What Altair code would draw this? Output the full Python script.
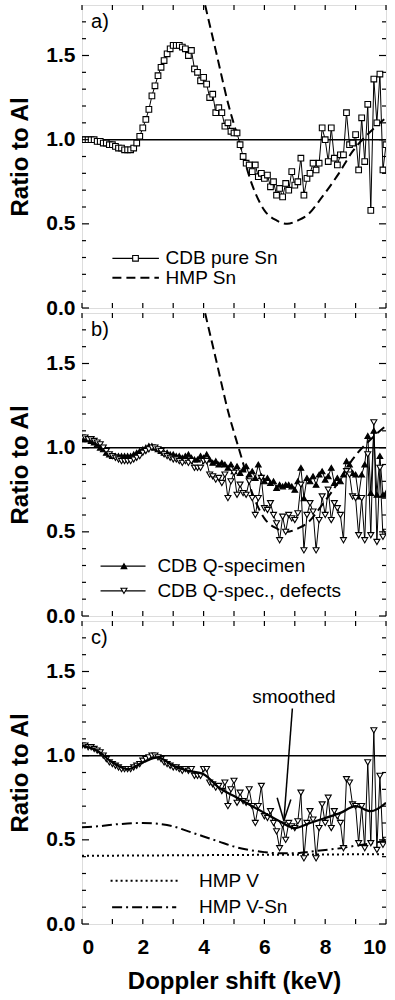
import altair as alt
import pandas as pd

FONT = "Liberation Sans"
W, H = 304, 303

# ---------------- data ----------------
x_grid = [0.0, 0.1, 0.2, 0.3, 0.4, 0.5, 0.6, 0.7, 0.8, 0.9,
          1.0, 1.1, 1.2, 1.3, 1.4, 1.5, 1.6, 1.7, 1.8, 1.9,
          2.0, 2.1, 2.2, 2.3, 2.4, 2.5, 2.6, 2.7, 2.8, 2.9,
          3.0, 3.1, 3.2, 3.3, 3.4, 3.5, 3.6, 3.7, 3.8, 3.9,
          4.0, 4.1, 4.2, 4.3, 4.4, 4.5, 4.6, 4.7, 4.8, 4.9,
          5.0, 5.1, 5.2, 5.3, 5.4, 5.5, 5.6, 5.7, 5.8, 5.9,
          6.0, 6.1, 6.2, 6.3, 6.4, 6.5, 6.6, 6.7, 6.8, 6.9,
          7.0, 7.1, 7.2, 7.3, 7.4, 7.5, 7.6, 7.7, 7.8, 7.9,
          8.0, 8.1, 8.2, 8.3, 8.4, 8.5, 8.6, 8.7, 8.8, 8.9,
          9.0, 9.1, 9.2, 9.3, 9.4, 9.5, 9.6, 9.7, 9.8, 9.9,
          10.0]

cdb_pure_sn = [1.00, 1.00, 1.00, 1.00, 1.00, 0.99, 0.99, 0.98, 0.98, 0.97,
               0.97, 0.96, 0.95, 0.95, 0.94, 0.94, 0.94, 0.95, 0.98, 1.02,
               1.07, 1.12, 1.18, 1.26, 1.32, 1.38, 1.43, 1.47, 1.51, 1.54,
               1.56, 1.56, 1.56, 1.55, 1.54, 1.50, 1.53, 1.42, 1.40, 1.35,
               1.37, 1.33, 1.25, 1.27, 1.16, 1.19, 1.16, 1.08, 1.10, 1.05,
               1.04, 1.04, 0.97, 0.90, 0.86, 0.85, 0.81, 0.85, 0.78, 0.80,
               0.77, 0.79, 0.72, 0.75, 0.67, 0.71, 0.66, 0.74, 0.70, 0.81,
               0.73, 0.75, 0.89, 0.67, 0.77, 0.80, 0.86, 0.82, 0.86, 1.07,
               1.00, 0.87, 1.07, 0.89, 0.85, 0.91, 0.91, 1.16, 0.97, 0.98,
               1.03, 0.82, 1.13, 0.87, 1.21, 0.58, 1.36, 1.10, 1.39, 0.82,
               0.97]

cdb_q_spec = [1.05, 1.05, 1.05, 1.04, 1.03, 1.02, 1.00, 0.99, 0.97, 0.96,
              0.95, 0.95, 0.95, 0.95, 0.95, 0.95, 0.95, 0.96, 0.97, 0.98,
              0.99, 1.00, 1.01, 1.01, 1.00, 0.99, 0.98, 0.97, 0.97, 0.96,
              0.96, 0.95, 0.95, 0.94, 0.95, 0.96, 0.94, 0.93, 0.93, 0.95,
              0.94, 0.96, 0.93, 0.91, 0.92, 0.90, 0.91, 0.90, 0.88, 0.90,
              0.86, 0.89, 0.85, 0.87, 0.89, 0.84, 0.86, 0.82, 0.90, 0.83,
              0.80, 0.82, 0.79, 0.80, 0.76, 0.78, 0.77, 0.78, 0.78, 0.77,
              0.75, 0.80, 0.88, 0.70, 0.82, 0.80, 0.83, 0.78, 0.84, 0.86,
              0.81, 0.83, 0.88, 0.79, 0.82, 0.80, 0.84, 0.92, 0.90, 0.85,
              0.84, 0.71, 0.84, 0.90, 1.07, 0.73, 1.10, 0.72, 0.95, 0.72,
              0.73]

cdb_defects = [1.06, 1.06, 1.05, 1.05, 1.04, 1.03, 1.02, 1.00, 0.98, 0.96,
               0.95, 0.94, 0.93, 0.92, 0.92, 0.92, 0.92, 0.93, 0.94, 0.95,
               0.97, 0.98, 0.99, 1.00, 1.00, 0.99, 0.98, 0.96, 0.95, 0.94,
               0.93, 0.93, 0.92, 0.91, 0.92, 0.91, 0.92, 0.88, 0.88, 0.88,
               0.92, 0.92, 0.84, 0.83, 0.81, 0.82, 0.79, 0.84, 0.70, 0.80,
               0.85, 0.72, 0.78, 0.73, 0.72, 0.80, 0.70, 0.60, 0.70, 0.82,
               0.64, 0.63, 0.67, 0.60, 0.55, 0.45, 0.59, 0.50, 0.60, 0.58,
               0.57, 0.61, 0.78, 0.39, 0.60, 0.67, 0.62, 0.39, 0.57, 0.71,
               0.60, 0.75, 0.57, 0.67, 0.64, 0.60, 0.45, 0.86, 0.84, 0.71,
               0.70, 0.48, 0.70, 0.45, 0.96, 0.48, 1.15, 0.44, 0.88, 0.47,
               0.50]

smooth_x = [0.0, 0.5, 1.0, 1.5, 2.0, 2.5, 3.0, 3.5, 4.0, 4.5, 5.0,
            5.5, 6.0, 6.5, 7.0, 7.5, 8.0, 8.5, 9.0, 9.5, 10.0]
smooth_y = [1.06, 1.03, 0.96, 0.92, 0.96, 0.99, 0.94, 0.91, 0.89, 0.81, 0.76,
            0.71, 0.66, 0.61, 0.57, 0.60, 0.63, 0.66, 0.70, 0.67, 0.72]

hmp_sn_x = [3.95, 4.05, 4.4, 4.8, 5.2, 5.6, 6.0, 6.4, 6.75, 7.1, 7.4, 7.9,
            8.45, 8.9, 9.5, 10.0]
hmp_sn_y = [1.88, 1.80, 1.53, 1.22, 0.97, 0.73, 0.58, 0.52, 0.50, 0.52, 0.55,
            0.66, 0.80, 0.93, 1.05, 1.13]

hmp_v_x = [0.0, 5.0, 10.0]
hmp_v_y = [0.405, 0.41, 0.415]

hmp_vsn_x = [0.0, 0.5, 1.0, 1.5, 2.0, 2.5, 3.0, 3.5, 4.0, 4.5, 5.0,
             5.5, 6.0, 6.5, 7.0, 7.5, 8.0, 8.5, 9.0, 9.5, 10.0]
hmp_vsn_y = [0.575, 0.58, 0.59, 0.597, 0.60, 0.595, 0.58, 0.55, 0.52, 0.49, 0.46,
             0.44, 0.427, 0.42, 0.42, 0.43, 0.44, 0.45, 0.465, 0.478, 0.496]

x_tick_vals = [0, 1, 2, 3, 4, 5, 6, 7, 8, 9, 10]
x_label_vals = [0, 2, 4, 6, 8, 10]
y_label_vals = [0.0, 0.5, 1.0, 1.5]
y_minor_vals = [0.1, 0.2, 0.3, 0.4, 0.6, 0.7, 0.8, 0.9, 1.1, 1.2, 1.3, 1.4,
                1.6, 1.7]

panel_labels = ["a)", "b)", "c)"]

legend_a = ["CDB pure Sn", "HMP Sn"]
legend_b = ["CDB Q-specimen", "CDB Q-spec., defects"]
legend_c = ["HMP V", "HMP V-Sn"]

# ---------------- helpers ----------------
XS = alt.Scale(domain=[0, 10], nice=False, zero=False)
YS = alt.Scale(domain=[0, 1.8], nice=False, zero=False)

Y_AXIS = alt.Axis(values=y_label_vals, format=".1f", title="Ratio to Al",
                  ticks=False, domain=False, grid=False,
                  labelFont=FONT, labelFontWeight="bold", labelFontSize=21,
                  labelColor="black", labelPadding=7,
                  titleFont=FONT, titleFontWeight="bold", titleFontSize=24,
                  titleColor="black", titlePadding=13)

X_AXIS_C = alt.Axis(values=x_label_vals, format="d", title="Doppler shift (keV)",
                    ticks=False, domain=False, grid=False,
                    labelFont=FONT, labelFontWeight="bold", labelFontSize=21,
                    labelColor="black", labelPadding=12,
                    titleFont=FONT, titleFontWeight="bold", titleFontSize=24,
                    titleColor="black", titlePadding=12)


def xe(show):
    return alt.X("x:Q", scale=XS, axis=X_AXIS_C if show else None)


def ye():
    return alt.Y("y:Q", scale=YS, axis=Y_AXIS)


def df(xs, ys):
    return pd.DataFrame({"x": xs, "y": ys})


def frame_ticks(show):
    layers = []
    ymaj = pd.DataFrame({"y": y_label_vals})
    ymin = pd.DataFrame({"y": y_minor_vals})
    xt = pd.DataFrame({"x": x_tick_vals})
    for d, ln in ((ymaj, 7), (ymin, 4)):
        layers.append(alt.Chart(d).mark_rule(color="black", strokeWidth=1.2).encode(
            y=ye(), x=alt.value(0), x2=alt.value(ln)))
        layers.append(alt.Chart(d).mark_rule(color="black", strokeWidth=1.2).encode(
            y=ye(), x=alt.value(W - ln), x2=alt.value(W)))
    layers.append(alt.Chart(xt).mark_rule(color="black", strokeWidth=1.2).encode(
        x=xe(show), y=alt.value(0), y2=alt.value(5)))
    layers.append(alt.Chart(xt).mark_rule(color="black", strokeWidth=1.2).encode(
        x=xe(show), y=alt.value(H - 5), y2=alt.value(H)))
    return layers


def unity(show):
    return alt.Chart(pd.DataFrame({"x": [0.0], "x2": [10.0], "y": [1.0]})).mark_rule(
        color="black", strokeWidth=1.5).encode(x=xe(show), x2="x2:Q", y=ye())


def label(txt, show):
    return alt.Chart(pd.DataFrame({"x": [0.3], "y": [1.70], "t": [txt]})).mark_text(
        font=FONT, fontSize=20, align="left", baseline="middle", color="black").encode(
        x=xe(show), y=ye(), text="t:N")


def seg(x1, x2, yv, show, dash=None, width=1.2):
    kw = dict(color="black", strokeWidth=width)
    if dash is not None:
        kw["strokeDash"] = dash
    return alt.Chart(pd.DataFrame({"x": [x1], "x2": [x2], "y": [yv]})).mark_rule(**kw).encode(
        x=xe(show), x2="x2:Q", y=ye())


def txt(xv, yv, s, show, size=19, align="left"):
    return alt.Chart(pd.DataFrame({"x": [xv], "y": [yv], "t": [s]})).mark_text(
        font=FONT, fontSize=size, align=align, baseline="middle", color="black").encode(
        x=xe(show), y=ye(), text="t:N")


def line(xs, ys, show, dash=None, width=1.0, interp=None, clip=True):
    kw = dict(color="black", strokeWidth=width, clip=clip)
    if dash is not None:
        kw["strokeDash"] = dash
    if interp is not None:
        kw["interpolate"] = interp
    return alt.Chart(df(xs, ys)).mark_line(**kw).encode(x=xe(show), y=ye())


def pts(xs, ys, show, shape, filled_black=False, size=30):
    if filled_black:
        m = alt.Chart(df(xs, ys)).mark_point(shape=shape, filled=True, fill="black",
                                             stroke="black", strokeWidth=1.1, size=size,
                                             opacity=1, clip=True)
    else:
        m = alt.Chart(df(xs, ys)).mark_point(shape=shape, filled=True, fill="white",
                                             stroke="black", strokeWidth=1.1, size=size,
                                             opacity=1, clip=True)
    return m.encode(x=xe(show), y=ye())


# ---------------- panel a ----------------
pa = alt.layer(
    unity(False),
    line(hmp_sn_x, hmp_sn_y, False, dash=[9, 5], width=2, interp="monotone"),
    line(x_grid, cdb_pure_sn, False),
    pts(x_grid, cdb_pure_sn, False, "square", size=32),
    seg(1.0, 2.53, 0.295, False),
    pts([1.76], [0.295], False, "square", size=32),
    txt(2.75, 0.295, legend_a[0], False),
    seg(1.0, 2.53, 0.18, False, dash=[9, 5], width=2),
    txt(2.75, 0.18, legend_a[1], False),
    label(panel_labels[0], False),
    *frame_ticks(False),
).properties(width=W, height=H)

# ---------------- panel b ----------------
pb = alt.layer(
    unity(False),
    line(hmp_sn_x, hmp_sn_y, False, dash=[9, 5], width=2, interp="monotone"),
    line(x_grid, cdb_q_spec, False),
    pts(x_grid, cdb_q_spec, False, "triangle-up", filled_black=True, size=32),
    line(x_grid, cdb_defects, False),
    pts(x_grid, cdb_defects, False, "triangle-down", size=36),
    seg(0.61, 2.09, 0.296, False),
    pts([1.38], [0.296], False, "triangle-up", filled_black=True, size=32),
    txt(2.48, 0.296, legend_b[0], False),
    seg(0.61, 2.09, 0.149, False),
    pts([1.38], [0.149], False, "triangle-down", size=36),
    txt(2.48, 0.149, legend_b[1], False),
    label(panel_labels[1], False),
    *frame_ticks(False),
).properties(width=W, height=H)

# ---------------- panel c ----------------
arrow_x = [6.92, 6.64]
arrow_y = [1.28, 0.613]
head_lx = [6.42, 6.64]
head_ly = [0.75, 0.613]
head_rx = [6.87, 6.64]
head_ry = [0.74, 0.613]

pc = alt.layer(
    unity(True),
    line(hmp_v_x, hmp_v_y, True, dash=[2, 3], width=2),
    line(hmp_vsn_x, hmp_vsn_y, True, dash=[10, 4, 2, 4], width=2, interp="monotone"),
    line(x_grid, cdb_defects, True),
    pts(x_grid, cdb_defects, True, "triangle-down", size=36),
    line(smooth_x, smooth_y, True, width=2.2, interp="monotone"),
    line(arrow_x, arrow_y, True, width=1.5),
    line(head_lx, head_ly, True, width=1.5),
    line(head_rx, head_ry, True, width=1.5),
    txt(6.97, 1.35, "smoothed", True, align="center"),
    seg(0.94, 3.24, 0.257, True, dash=[2, 3], width=2),
    txt(3.85, 0.257, legend_c[0], True),
    seg(0.99, 3.1, 0.10, True, dash=[10, 4, 2, 4], width=2),
    txt(3.85, 0.10, legend_c[1], True),
    label(panel_labels[2], True),
    *frame_ticks(True),
).properties(width=W, height=H)

chart = alt.vconcat(pa, pb, pc, spacing=5, bounds="flush").properties(
    padding={"left": 8, "top": 3, "right": 0, "bottom": 5}
).configure_view(stroke="black", strokeWidth=2).configure(background="white")

chart.save("out.html", embed_options={"renderer": "svg", "actions": False})
